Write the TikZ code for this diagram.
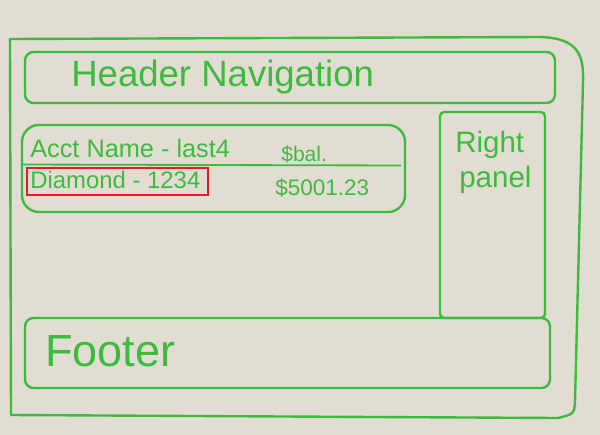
\documentclass[tikz,border=0pt]{standalone}
\usepackage{fontspec}
\setmainfont{Liberation Sans}
\usepackage{tikz}
\usetikzlibrary{positioning,calc}
\definecolor{boardbg}{HTML}{E2DDD3}
\definecolor{markergreen}{HTML}{3DBB3D}
\definecolor{markred}{HTML}{E41E1E}
\tikzset{
  inkbox/.style={draw=markergreen,line width=1.7pt,rounded corners=6pt,inner sep=0pt},
  inkline/.style={draw=markergreen,line width=1.7pt},
  inktext/.style={text=markergreen,anchor=west,inner sep=0pt},
  markbox/.style={draw=markred,line width=0.9pt,inner sep=0pt}
}

\begin{document}
\begin{tikzpicture}[x=0.025cm,y=-0.025cm]
  \fill[boardbg] (0,0) rectangle (600,435);
  \useasboundingbox (0,0) rectangle (600,435);
  % outer frame
  \draw[inkline,line join=round] (10,39) -- (540,37) .. controls (578,38) and (584,55) .. (583,82)
    -- (575,402) .. controls (574,414) .. (558,418) -- (11,415) -- cycle;
  % header
  \node[inkbox,minimum width=530*0.025cm,minimum height=51*0.025cm] (header) at (290,77.5) {};
  \node[inktext,font=\fontsize{26}{28}\selectfont] (headertext) at (71,77) {Header Navigation};
  % account list
  \node[inkbox,rounded corners=12pt,minimum width=383*0.025cm,minimum height=87*0.025cm] (acct) at (213.5,168.5) {};
  \draw[inkline,line width=1.3pt] ($(acct.west)+(0,-4)$) -- ($(acct.east)+(-5,-3)$);
  \node[inktext,font=\fontsize{18}{20}\selectfont] (acctname) at (30,148) {Acct Name - last4};
  \node[inktext,font=\fontsize{15}{18}\selectfont] (balhead) at (281,154) {\$bal.};
  \node[inktext,font=\fontsize{17}{19}\selectfont] (diamond) at (30,180) {Diamond - 1234};
  \node[inktext,font=\fontsize{16}{18}\selectfont] (balance) at (275,188) {\$5001.23};
  \node[markbox,minimum width=181*0.025cm,minimum height=27*0.025cm] (selected) at (117.5,181.5) {};
  % right panel
  \node[inkbox,rounded corners=3pt,minimum width=105*0.025cm,minimum height=206*0.025cm] (rightpanel) at (492.5,215) {};
  \node[inktext,font=\fontsize{21}{23}\selectfont] (righttext) at (455,145) {Right};
  \node[inktext,font=\fontsize{21}{23}\selectfont] (paneltext) at (459,180) {panel};
  % footer
  \node[inkbox,minimum width=525*0.025cm,minimum height=70*0.025cm] (footer) at (287.5,353) {};
  \node[inktext,font=\fontsize{32}{34}\selectfont] (footertext) at (45,351) {Footer};
\end{tikzpicture}
\end{document}
